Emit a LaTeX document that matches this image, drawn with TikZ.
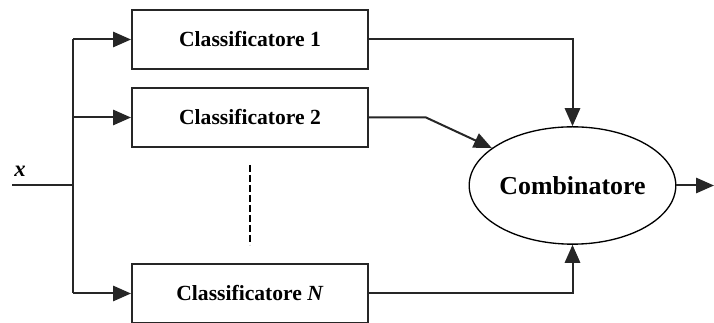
\documentclass[tikz,border=0pt]{standalone}
\usepackage{fontspec}
\setmainfont{Liberation Serif}
\usetikzlibrary{arrows.meta,shapes.geometric}
\begin{document}
\begin{tikzpicture}[x=0.75pt,y=-0.75pt,
  wire/.style={line width=1.5pt,draw=black!85},
  arr/.style={wire,-{Triangle[length=13.5pt,width=11.5pt]}},
  clbox/.style={draw=black!85,line width=1.5pt,minimum width=177pt,minimum height=44pt,
    inner sep=0pt,font=\fontsize{16.2}{19}\selectfont\bfseries},
  combo/.style={ellipse,draw,line width=1pt,minimum width=132.5pt,minimum height=88pt,
    inner sep=0pt,font=\fontsize{19.4}{22}\selectfont\bfseries}]
  \useasboundingbox (0,0) rectangle (714,323);

  % classifiers and combiner
  \node[clbox] (c1) at (250,39.5) {Classificatore 1};
  \node[clbox] (c2) at (250,117.5) {Classificatore 2};
  \node[clbox] (cn) at (250,293.5) {Classificatore \textit{N}};
  \node[combo] (comb) at (572.5,185.5) {Combinatore};

  % input and fan-out
  \node[font=\fontsize{17}{20}\selectfont\bfseries\itshape] (xlab) at (20,171) {x};
  \coordinate (xin) at (12,185);
  \coordinate (split) at (73,185);
  \coordinate (s1) at (73,39.5);
  \coordinate (s2) at (73,117.5);
  \coordinate (sn) at (73,293.5);
  \coordinate (bend) at (426,117.5);
  \coordinate (yout) at (714,185.5);
  \coordinate (d1) at (250,165);
  \coordinate (d2) at (250,245);

  \draw[wire] (xin) -- (split);
  \draw[wire] (s1) -- (sn);
  \draw[arr] (s1) -- (c1.west);
  \draw[arr] (s2) -- (c2.west);
  \draw[arr] (sn) -- (cn.west);

  % dashed ellipsis between the classifiers
  \draw[line width=1.1pt,dash pattern=on 5.25pt off 2.25pt] (d1) -- (d2);

  % outputs to the combiner
  \draw[arr] (c1.east) -| (comb.north);
  \draw[arr] (c2.east) -- (bend) -- (comb);
  \draw[arr] (cn.east) -| (comb.south);
  \draw[arr] (comb.east) -- (yout);
\end{tikzpicture}
\end{document}
